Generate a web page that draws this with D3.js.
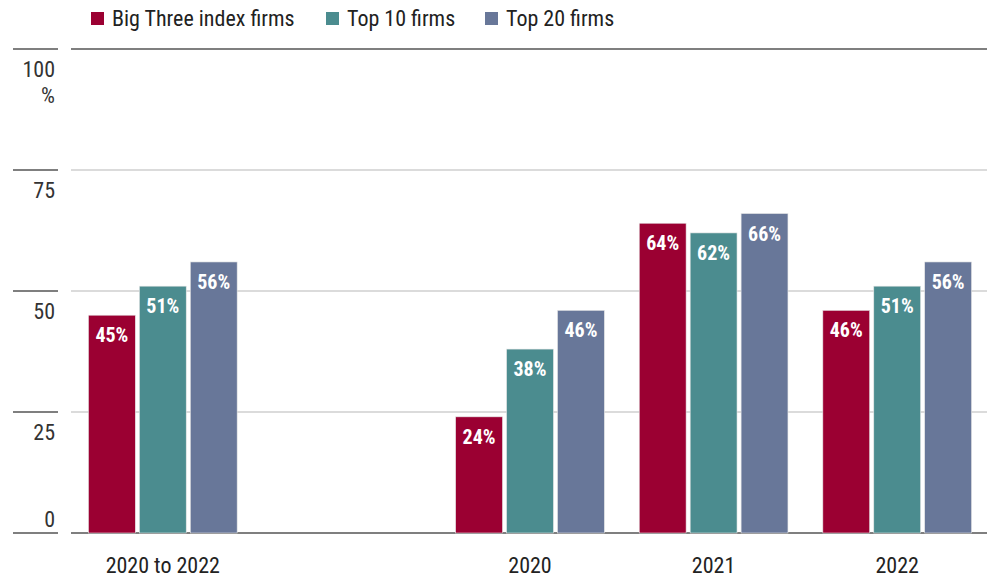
<!DOCTYPE html>
<html>
<head>
<meta charset="utf-8">
<script src="https://cdn.jsdelivr.net/npm/d3@7"></script>
<style>
  body { margin: 0; background: #fff; }
  text { font-family: "Roboto Condensed", "DejaVu Sans Condensed", Roboto, sans-serif; font-stretch: condensed; }
</style>
</head>
<body>
<div id="chart"></div>
<script>
// data
var categories = ['2020 to 2022', '', '2020', '2021', '2022']
var seriesNames = ['Big Three index firms', 'Top 10 firms', 'Top 20 firms']
var bigThree = [45, null, 24, 64, 46]
var top10 = [51, null, 38, 62, 51]
var top20 = [56, null, 46, 66, 56]
var yTicks = [0, 25, 50, 75, 100]
var colors = ['#9b0032', '#4b8c8f', '#687799']

var width = 997
var height = 578
var margin = { top: 49, bottom: 45, left: 71, right: 8 }

var svg = d3.select('#chart').append('svg').attr('width', width).attr('height', height)

var xScale = d3.scaleBand().domain(d3.range(categories.length)).range([margin.left, width - margin.right]).paddingInner(0.19).paddingOuter(0.095)
var xInner = d3.scaleBand().domain(d3.range(3)).range([0, xScale.bandwidth()]).paddingInner(0.08)
var yScale = d3.scaleLinear().domain([0, 100]).range([height - margin.bottom, margin.top])

// gridlines
var grid = svg.append('g')
grid.selectAll('line.grid').data(yTicks).join('line')
    .attr('x1', margin.left).attr('x2', 987)
    .attr('y1', d => yScale(d)).attr('y2', d => yScale(d))
    .attr('stroke', d => (d === 0 || d === 100) ? '#555' : '#cfcfcf')
    .attr('stroke-width', d => (d === 0 || d === 100) ? 1.3 : 1.3)
grid.selectAll('line.tick').data(yTicks).join('line')
    .attr('x1', 13).attr('x2', 58)
    .attr('y1', d => yScale(d)).attr('y2', d => yScale(d))
    .attr('stroke', '#555').attr('stroke-width', 1.3)

// y labels
var yLab = svg.append('g')
yLab.selectAll('text').data(yTicks).join('text')
    .attr('x', 55)
    .attr('y', d => d === 0 ? yScale(d) - 6 : yScale(d) + 28)
    .attr('text-anchor', 'end')
    .attr('font-size', 22).attr('fill', '#333')
    .text(d => d)
yLab.append('text').attr('x', 55).attr('y', yScale(100) + 54).attr('text-anchor', 'end')
    .attr('font-size', 22).attr('fill', '#333').text('%')

// bars
var allSeries = [bigThree, top10, top20]
var barData = []
allSeries.forEach(function (s, si) {
    s.forEach(function (v, ci) {
        if (v !== null) barData.push({ s: si, c: ci, v: v })
    })
})

var bars = svg.append('g')
bars.selectAll('rect').data(barData).join('rect')
    .attr('x', d => xScale(d.c) + xInner(d.s))
    .attr('width', xInner.bandwidth())
    .attr('y', d => yScale(d.v))
    .attr('height', d => yScale(0) - yScale(d.v))
    .attr('fill', d => colors[d.s])
    .attr('stroke', '#e6e6e6').attr('stroke-width', 0.6)

bars.selectAll('text').data(barData).join('text')
    .attr('x', d => xScale(d.c) + xInner(d.s) + xInner.bandwidth() / 2)
    .attr('y', d => yScale(d.v) + 27)
    .attr('text-anchor', 'middle')
    .attr('font-size', 20).attr('font-weight', 'bold').attr('fill', '#fff')
    .text(d => d.v + '%')

// x labels
svg.append('g').selectAll('text').data(categories).join('text')
    .attr('x', (d, i) => xScale(i) + xScale.bandwidth() / 2)
    .attr('y', 573)
    .attr('text-anchor', 'middle')
    .attr('font-size', 22).attr('fill', '#222')
    .text(d => d)

// legend
var legendX = [91, 326, 485]
var legend = svg.append('g').selectAll('g').data(seriesNames).join('g')
    .attr('transform', (d, i) => `translate(${legendX[i]},0)`)
legend.append('rect').attr('x', 0).attr('y', 12).attr('width', 13).attr('height', 13).attr('fill', (d, i) => colors[i])
legend.append('text').attr('x', 21).attr('y', 26).attr('font-size', 22).attr('fill', '#222').text(d => d)
</script>
</body>
</html>
